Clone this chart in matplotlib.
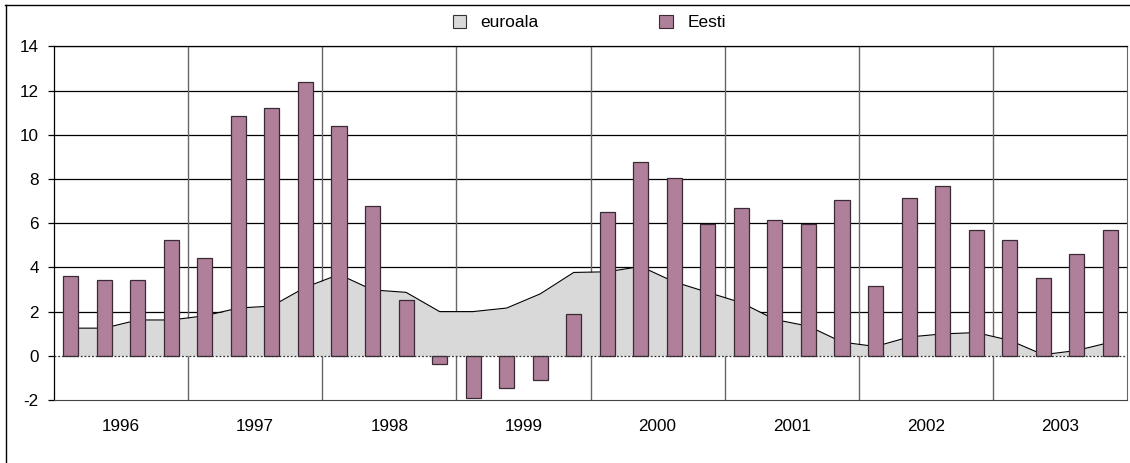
import matplotlib
matplotlib.use("Agg")
import matplotlib.pyplot as plt
from matplotlib.patches import Patch
from matplotlib.lines import Line2D
import numpy as np

plt.rcParams['font.family'] = ['Liberation Sans', 'DejaVu Sans']

years = ['1996', '1997', '1998', '1999', '2000', '2001', '2002', '2003']
quarters_per_year = 4

eesti = [3.62, 3.44, 3.44, 5.24, 4.44, 10.84, 11.2, 12.37,
         10.38, 6.77, 2.52, -0.37, -1.91, -1.46, -1.1, 1.88,
         6.5, 8.76, 8.02, 5.95, 6.68, 6.13, 5.95, 7.04,
         3.15, 7.13, 7.67, 5.7, 5.23, 3.51, 4.6, 5.7]

euroala = [1.25, 1.25, 1.62, 1.62, 1.81, 2.16, 2.25, 3.1,
           3.68, 2.98, 2.87, 2.0, 2.0, 2.16, 2.8, 3.77,
           3.8, 4.04, 3.34, 2.87, 2.4, 1.64, 1.34, 0.62,
           0.42, 0.85, 0.99, 1.05, 0.7, 0.05, 0.24, 0.61]

bar_color = '#b0809a'
area_color = '#d9d9d9'
fs = 12.3

fig = plt.figure(figsize=(11.3, 4.63), dpi=100)
ax = fig.add_axes([54 / 1130, 1 - 400 / 463, (1127 - 54) / 1130, (400 - 46.3) / 463])

n = len(eesti)
x = np.arange(n) + 0.5

# gridlines first, series drawn on top
for yv in range(2, 15, 2):
    ax.axhline(yv, color='black', lw=0.9, zorder=1)
ax.axhline(0, color='#333333', lw=0.9, ls=(0, (1.5, 1.5)), zorder=4)
for k in range(1, len(years)):
    ax.axvline(k * quarters_per_year, color='#666666', lw=1.0, zorder=1)

ax.fill_between(x, 0, euroala, color=area_color, lw=0, zorder=2)
ax.plot(x, euroala, color='black', lw=0.8, zorder=2.5)

ax.bar(x, eesti, width=0.45, color=bar_color, edgecolor='#3a2a35', lw=0.9, zorder=3)

ax.set_xlim(0, n)
ax.set_ylim(-2, 14)
ax.set_yticks(range(-2, 15, 2))
ax.set_yticklabels([str(v) for v in range(-2, 15, 2)], fontsize=fs)
ax.tick_params(axis='y', direction='out', length=4, width=0.9, pad=7, color='black')

year_centers = [quarters_per_year * i + quarters_per_year / 2 for i in range(len(years))]
ax.set_xticks(year_centers)
ax.set_xticklabels(years, fontsize=fs)
ax.tick_params(axis='x', length=0, pad=13.5)

ax.spines['left'].set_color('black')
ax.spines['left'].set_linewidth(0.9)
ax.spines['top'].set_color('black')
ax.spines['top'].set_linewidth(0.9)
ax.spines['right'].set_color('#666666')
ax.spines['bottom'].set_color('#444444')

handles = [Patch(facecolor=area_color, edgecolor='#333333', lw=0.8, label='euroala'),
           Patch(facecolor=bar_color, edgecolor='#3a2a35', lw=0.8, label='Eesti')]
fig.legend(handles=handles, loc='center', bbox_to_anchor=(0.5215, 0.951), ncol=2,
           frameon=False, fontsize=12.5, handlelength=0.75, handleheight=0.75,
           handletextpad=0.86, columnspacing=6.95)

# outer chart frame (cut off at right and bottom)
fig.add_artist(Line2D([5 / 1130, 1], [1 - 4.5 / 463, 1 - 4.5 / 463], color='black', lw=1.0))
fig.add_artist(Line2D([5.5 / 1130, 5.5 / 1130], [0, 1 - 4.5 / 463], color='black', lw=1.0))

fig.savefig('out.png', dpi=100)
